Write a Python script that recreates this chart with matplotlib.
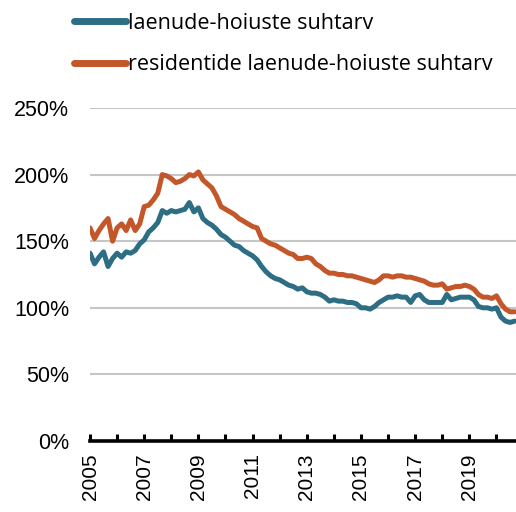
import numpy as np
import matplotlib
matplotlib.use('Agg')
import matplotlib.pyplot as plt
from matplotlib.ticker import FuncFormatter, MultipleLocator, FixedLocator

# values every 2 months, starting Jan 2005 (percent)
start_year = 2005
step = 1 / 6

loan_deposit = [
	141, 133, 138, 142, 131, 137,   # 2005
	141, 138, 142, 141, 143, 148,   # 2006
	151, 157, 160, 164, 173, 171,   # 2007
	173, 172, 173, 174, 179, 172,   # 2008
	175, 167, 164, 162, 159, 155,   # 2009
	153, 150, 147, 146, 143, 141,   # 2010
	139, 136, 131, 127, 124, 122,   # 2011
	121, 119, 117, 116, 114, 115,   # 2012
	112, 111, 111, 110, 108, 105,   # 2013
	106, 105, 105, 104, 104, 103,   # 2014
	100, 100, 99, 101, 104, 106,    # 2015
	108, 108, 109, 108, 108, 104,   # 2016
	109, 110, 106, 104, 104, 104,   # 2017
	104, 110, 106, 107, 108, 108,   # 2018
	108, 106, 101, 100, 100, 99,    # 2019
	100, 93, 90, 89, 90,            # 2020
]

resident_loan_deposit = [
	160, 152, 158, 163, 167, 150,   # 2005
	160, 163, 158, 166, 158, 163,   # 2006
	176, 177, 181, 186, 200, 199,   # 2007
	197, 194, 195, 197, 200, 199,   # 2008
	202, 196, 193, 190, 184, 176,   # 2009
	174, 172, 170, 167, 165, 163,   # 2010
	161, 160, 152, 150, 148, 147,   # 2011
	145, 143, 141, 140, 137, 137,   # 2012
	138, 137, 133, 131, 128, 126,   # 2013
	126, 125, 125, 124, 124, 123,   # 2014
	122, 121, 120, 119, 121, 124,   # 2015
	124, 123, 124, 124, 123, 123,   # 2016
	122, 121, 120, 118, 117, 117,   # 2017
	118, 114, 115, 116, 116, 117,   # 2018
	116, 114, 110, 108, 108, 107,   # 2019
	109, 103, 99, 97, 97,           # 2020
]

year_labels = [2005, 2007, 2009, 2011, 2013, 2015, 2017, 2019]
labels = ['laenude-hoiuste suhtarv', 'residentide laenude-hoiuste suhtarv']
colors = ['#2d6e84', '#c4572a']

##################################################
t = start_year + step * np.arange(len(loan_deposit))
t2 = start_year + step * np.arange(len(resident_loan_deposit))

plt.rcParams['font.family'] = ['Liberation Sans', 'DejaVu Sans']

fig = plt.figure(figsize=(5.16, 5.12), dpi=100)
ax = fig.add_axes([90/516, 71/512, 1 - 90/516, (441-108)/512])

ax.plot(t, np.array(loan_deposit) / 100, color=colors[0], lw=3.6, label=labels[0],
	solid_joinstyle='round', solid_capstyle='round')
ax.plot(t2, np.array(resident_loan_deposit) / 100, color=colors[1], lw=3.6, label=labels[1],
	solid_joinstyle='round', solid_capstyle='round')

ax.set_xlim(2005, 2020.72)
ax.set_ylim(0, 2.5)

# grid
for v in [0.5, 1.0, 1.5, 2.0, 2.5]:
	ax.axhline(v, color='#c6c6c6', lw=1.5, zorder=0)

for s in ['top', 'right', 'left']:
	ax.spines[s].set_visible(False)
ax.spines['bottom'].set_linewidth(2.6)
ax.spines['bottom'].set_color('black')
ax.spines['bottom'].set_zorder(5)

ax.yaxis.set_major_locator(MultipleLocator(0.5))
ax.yaxis.set_major_formatter(FuncFormatter(lambda v, p: '%d%%' % round(v * 100)))
ax.tick_params(axis='y', length=0, pad=15, labelsize=15.5)

ax.xaxis.set_major_locator(FixedLocator(year_labels))
ax.xaxis.set_minor_locator(MultipleLocator(1))
ax.xaxis.set_major_formatter(FuncFormatter(lambda v, p: '%d' % v))
ax.tick_params(axis='x', which='both', direction='in', length=5, width=2.2,
	color='black', labelsize=15, labelrotation=90, pad=9)

leg = fig.legend(loc='upper left', bbox_to_anchor=(74/516, 1 - 13/512),
	frameon=False, handlelength=2.4, handletextpad=0.1,
	labelspacing=0.95, borderpad=0, borderaxespad=0,
	prop={'family': 'Open Sans', 'size': 15.5})
for h in leg.get_lines():
	h.set_linewidth(5)
	h.set_solid_capstyle('round')

plt.savefig('out.png', dpi=100)
plt.close()
